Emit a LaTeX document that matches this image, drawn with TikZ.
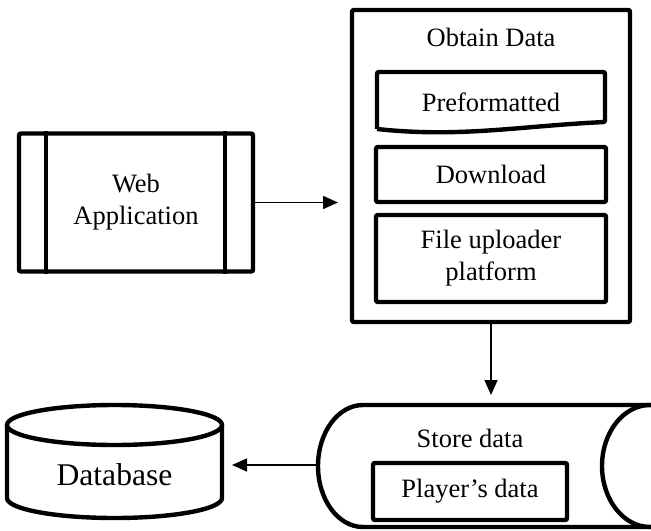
\documentclass[tikz,border=0pt]{standalone}
\usepackage{fontspec}
\setmainfont{Liberation Serif}
\usetikzlibrary{arrows.meta,positioning}
\tikzset{
  box/.style={draw,line width=2.2pt,rounded corners=1pt,align=center,inner sep=0pt},
  thickline/.style={line width=2.2pt},
  flow/.style={line width=0.75pt,-{Triangle[length=7.5pt,width=6.5pt]}},
}
\begin{document}
\begin{tikzpicture}[x=0.5pt,y=0.5pt,font=\fontsize{13.25}{16}\selectfont]
    \useasboundingbox (0,0) rectangle (651,530);
    \clip (0,0) rectangle (651,530);
    % Web application
    \node[box,minimum width=117pt,minimum height=69pt] (web) at (136,327.5) {Web\\Application};
    \draw[thickline] ([xshift=14.5pt]web.north west) -- ([xshift=14.5pt]web.south west);
    \draw[thickline] ([xshift=-15pt]web.north east) -- ([xshift=-15pt]web.south east);
    % Obtain data
    \node[box,minimum width=139pt,minimum height=156pt] (obtain) at (491,364) {};
    \node (obtaintitle) at (491,493) {Obtain Data};
    \draw[thickline,rounded corners=1pt] (377,401) -- (377,458) -- (605,458) -- (605,408)
        .. controls (520,404) and (460,392) .. (377,401);
    \node (pre) at (491,428) {Preformatted};
    \node[box,minimum width=115pt,minimum height=27.5pt] (download) at (491,355.5) {Download};
    \node[box,minimum width=115pt,minimum height=43.5pt] (upload) at (491,271.5) {File uploader\\platform};
    \coordinate (obtainin) at (338,327.5);
    % Store data
    \draw[thickline] (700,125) -- (363,125) arc[start angle=90,end angle=270,x radius=45,y radius=61] -- (700,3);
    \draw[thickline] (650,64) ellipse[x radius=48,y radius=61];
    \coordinate (storetop) at (491,135);
    \coordinate (store) at (318,65);
    \node (storetitle) at (470,92) {Store data};
    \node[box,minimum width=97pt,minimum height=28.5pt] (player) at (470,38.5) {Player’s data};
    % Database
    \draw[thickline] (7,105) -- (7,32) arc[start angle=180,end angle=360,x radius=107.5,y radius=20] -- (222,105);
    \draw[thickline] (114.5,105) ellipse[x radius=107.5,y radius=20];
    \node (db) at (114.5,55) {\fontsize{15.8}{19}\selectfont Database};
    \coordinate (dbin) at (232,65);
    % Flechas
    \draw[flow] (web.east) -- (obtainin);
    \draw[flow] (obtain.south) -- (storetop);
    \draw[flow] (store) -- (dbin);
\end{tikzpicture}
\end{document}
